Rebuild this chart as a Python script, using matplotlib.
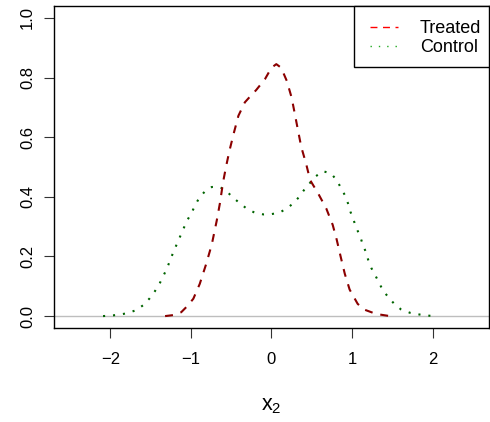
import matplotlib
matplotlib.use("Agg")
import matplotlib.pyplot as plt
from matplotlib.lines import Line2D
from matplotlib.patches import Rectangle

plt.rcParams['font.family'] = ['Liberation Sans', 'DejaVu Sans']
plt.rcParams['mathtext.fontset'] = 'custom'
plt.rcParams['mathtext.rm'] = 'Liberation Sans'

# density estimates
treated_x = [-1.32, -1.20, -1.12, -1.05, -0.97, -0.89, -0.81, -0.74, -0.68, -0.64,
             -0.60, -0.56, -0.52, -0.47, -0.41, -0.33, -0.26, -0.19, -0.08, 0.00,
             0.06, 0.12, 0.19, 0.25, 0.29, 0.33, 0.37, 0.43, 0.48, 0.58,
             0.68, 0.76, 0.81, 0.86, 0.91, 0.97, 1.07, 1.15, 1.26, 1.35, 1.47]
treated_y = [0.000, 0.004, 0.013, 0.032, 0.058, 0.108, 0.175, 0.241, 0.319, 0.378,
             0.450, 0.506, 0.556, 0.611, 0.672, 0.717, 0.738, 0.758, 0.795, 0.833,
             0.845, 0.833, 0.789, 0.733, 0.678, 0.622, 0.567, 0.511, 0.456, 0.411,
             0.361, 0.306, 0.256, 0.198, 0.142, 0.089, 0.041, 0.022, 0.011, 0.005, 0.000]

control_x = [-2.09, -1.98, -1.88, -1.77, -1.67, -1.59, -1.51, -1.45, -1.39, -1.30,
             -1.22, -1.14, -1.05, -0.99, -0.95, -0.90, -0.83, -0.74, -0.64, -0.55,
             -0.48, -0.39, -0.31, -0.21, -0.10, 0.00, 0.10, 0.19, 0.28, 0.35,
             0.41, 0.48, 0.55, 0.64, 0.74, 0.81, 0.86, 0.91, 0.95, 0.98,
             1.02, 1.05, 1.10, 1.13, 1.17, 1.20, 1.24, 1.29, 1.34, 1.39,
             1.46, 1.53, 1.61, 1.72, 1.82, 1.92, 2.03]
control_y = [0.000, 0.002, 0.005, 0.011, 0.021, 0.037, 0.060, 0.082, 0.108, 0.158,
             0.213, 0.263, 0.319, 0.347, 0.370, 0.395, 0.417, 0.433, 0.433, 0.417,
             0.398, 0.378, 0.361, 0.347, 0.341, 0.342, 0.347, 0.361, 0.380, 0.402,
             0.425, 0.447, 0.469, 0.486, 0.478, 0.456, 0.431, 0.406, 0.378, 0.350,
             0.322, 0.297, 0.269, 0.242, 0.216, 0.189, 0.161, 0.136, 0.109, 0.083,
             0.061, 0.039, 0.022, 0.011, 0.006, 0.002, 0.000]

x_ticks = [-2, -1, 0, 1, 2]
y_ticks = [0.0, 0.2, 0.4, 0.6, 0.8, 1.0]

fig = plt.figure(figsize=(4.9, 4.22), dpi=100)
ax = fig.add_axes([0.110, 0.2227, 0.888, 0.7631])

ax.axhline(0, color='#bebebe', lw=1.0, zorder=1)
ax.plot(treated_x, treated_y, color='#8b0000', lw=1.5, dashes=(3.8, 3.8),
        solid_capstyle='butt', dash_capstyle='butt', zorder=3)
ax.plot(control_x, control_y, color='#006400', lw=1.5, dashes=(1.0, 3.8),
        dash_capstyle='butt', zorder=2)

ax.set_xlim(-2.7, 2.7)
ax.set_ylim(-0.04, 1.04)
ax.set_xticks(x_ticks)
ax.set_xticklabels(['\u2212' + str(-t) if t < 0 else str(t) for t in x_ticks])
ax.set_yticks(y_ticks)
ax.set_yticklabels(['%.1f' % t for t in y_ticks], rotation=90, va='center')
ax.tick_params(axis='both', direction='out', length=7.5, width=0.8,
               labelsize=12, color='#333333')
ax.tick_params(axis='x', pad=10)
ax.tick_params(axis='y', pad=6)
for s in ax.spines.values():
    s.set_linewidth(1.0)

ax.set_xlabel(r'$\mathrm{x}_2$', fontsize=15.5, labelpad=20)

# legend box drawn separately (R-style padding)
box = Rectangle((0.690, 0.8106), 0.31, 0.1894, transform=ax.transAxes,
                facecolor='white', edgecolor='black', lw=1.0, zorder=4, clip_on=False)
ax.add_patch(box)

handles = [Line2D([], [], color='red', lw=1.0, dashes=(5, 4)),
           Line2D([], [], color='#22aa22', lw=1.0, dashes=(1, 5))]
leg = ax.legend(handles, ['Treated', 'Control'], loc='center',
                bbox_to_anchor=(0.854, 0.9006), fontsize=13, frameon=False,
                borderaxespad=0, handlelength=1.6, handletextpad=1.2,
                labelspacing=0.1, borderpad=0)
leg.set_zorder(5)

fig.savefig('out.png', dpi=100)
